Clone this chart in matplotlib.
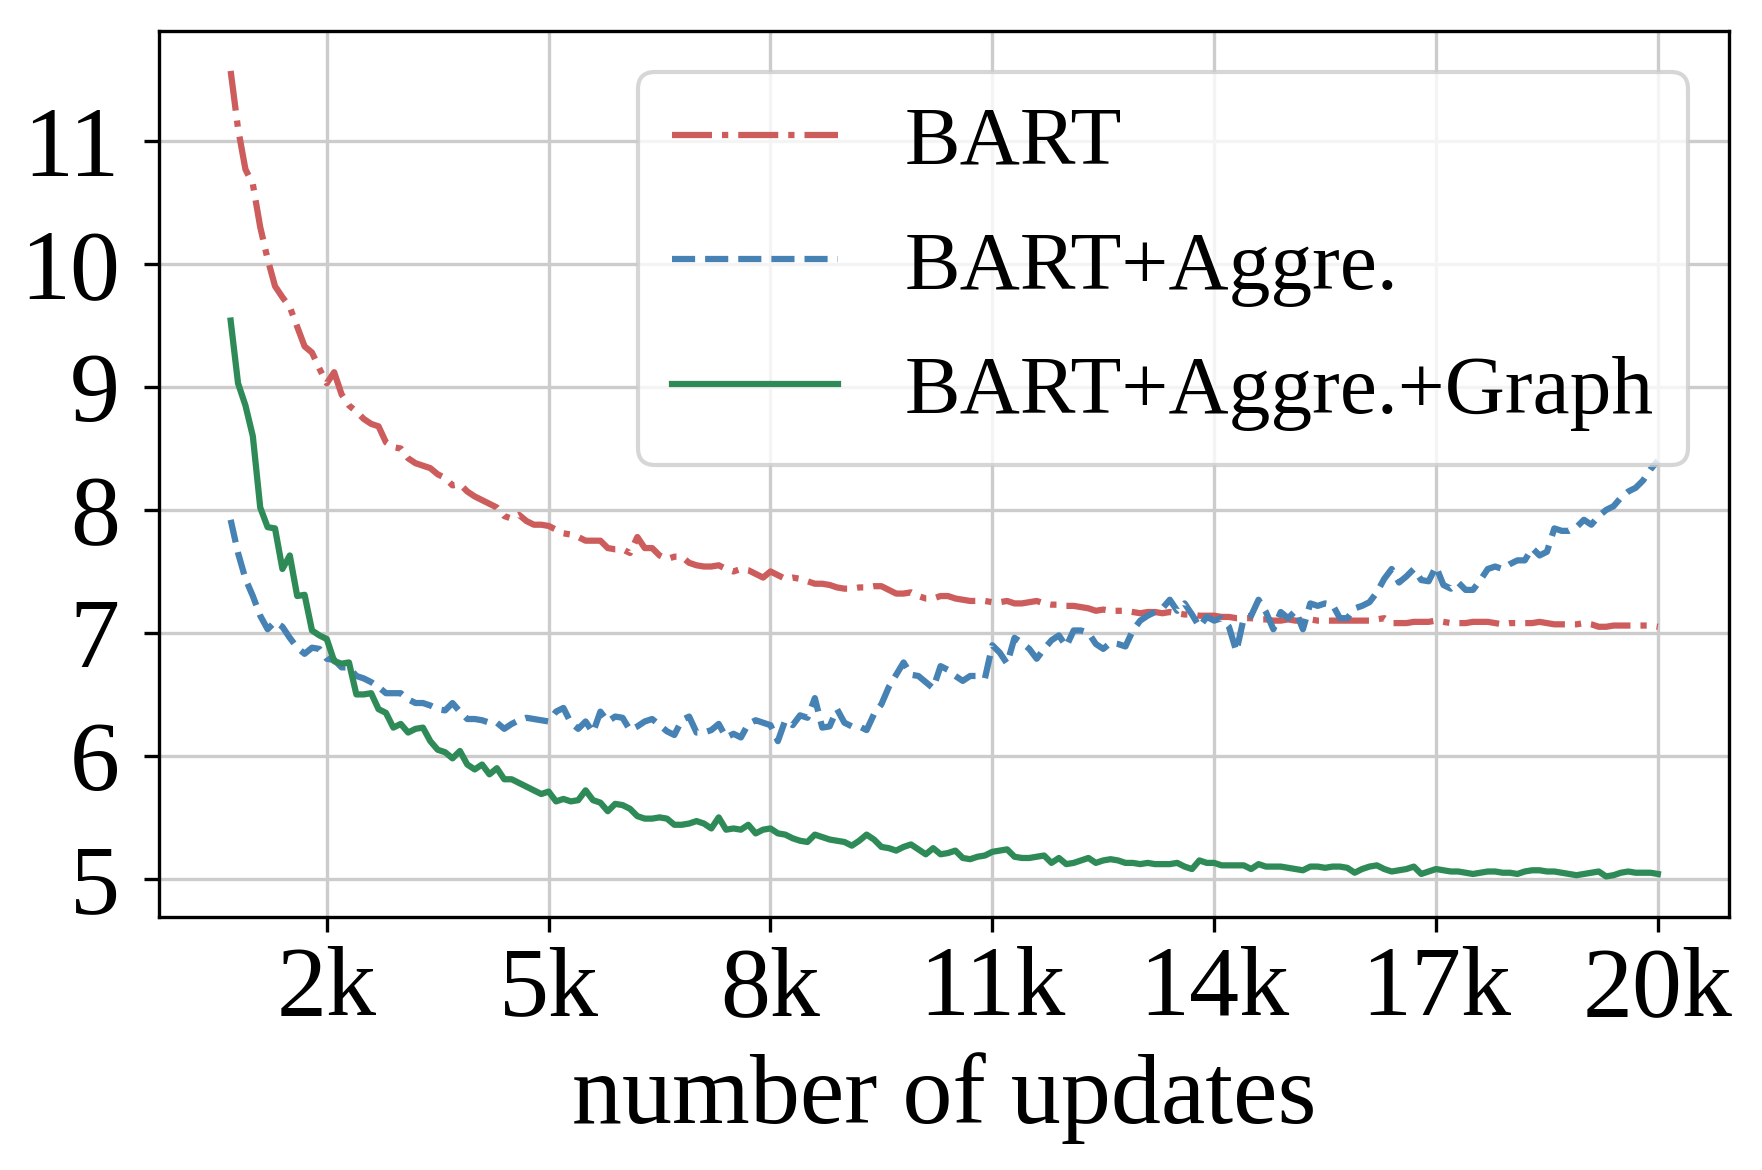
import numpy as np
import matplotlib
matplotlib.use("Agg")
import matplotlib.pyplot as plt

plt.rcParams['font.family'] = ['Liberation Serif', 'DejaVu Serif']

# validation loss, one value every 100 updates starting at 0.7k (x in thousands)
bart = [
    11.57, 11.10, 10.77, 10.65, 10.30, 10.04, 9.82, 9.73, 9.65, 9.49,   # 0.7-1.6k
    9.33, 9.28, 9.15, 9.03, 9.12, 8.94, 8.85, 8.80, 8.74, 8.70,         # 1.7-2.6k
    8.68, 8.55, 8.51, 8.50, 8.42, 8.38, 8.36, 8.34, 8.29, 8.26,         # 2.7-3.6k
    8.20, 8.21, 8.15, 8.11, 8.08, 8.05, 8.02, 7.95, 7.93, 7.96,         # 3.7-4.6k
    7.91, 7.88, 7.88, 7.87, 7.84, 7.81, 7.80, 7.78, 7.75, 7.75,         # 4.7-5.6k
    7.75, 7.69, 7.68, 7.68, 7.65, 7.78, 7.69, 7.69, 7.63, 7.60,         # 5.7-6.6k
    7.62, 7.62, 7.57, 7.55, 7.54, 7.54, 7.55, 7.52, 7.50, 7.52,         # 6.7-7.6k
    7.51, 7.48, 7.45, 7.50, 7.47, 7.44, 7.45, 7.44, 7.42, 7.40,         # 7.7-8.6k
    7.40, 7.39, 7.37, 7.36, 7.36, 7.37, 7.37, 7.38, 7.38, 7.35,         # 8.7-9.6k
    7.32, 7.32, 7.33, 7.30, 7.28, 7.28, 7.30, 7.30, 7.28, 7.27,         # 9.7-10.6k
    7.26, 7.26, 7.26, 7.25, 7.25, 7.26, 7.24, 7.24, 7.25, 7.26,         # 10.7-11.6k
    7.24, 7.23, 7.23, 7.22, 7.22, 7.21, 7.20, 7.18, 7.19, 7.18,         # 11.7-12.6k
    7.18, 7.18, 7.17, 7.16, 7.17, 7.17, 7.16, 7.17, 7.16, 7.15,         # 12.7-13.6k
    7.15, 7.14, 7.14, 7.14, 7.13, 7.13, 7.12, 7.12, 7.12, 7.11,         # 13.7-14.6k
    7.11, 7.10, 7.10, 7.11, 7.10, 7.10, 7.11, 7.10, 7.10, 7.10,         # 14.7-15.6k
    7.10, 7.10, 7.10, 7.10, 7.10, 7.11, 7.12, 7.08, 7.08, 7.08,         # 15.7-16.6k
    7.09, 7.09, 7.09, 7.10, 7.09, 7.08, 7.08, 7.08, 7.09, 7.09,         # 16.7-17.6k
    7.09, 7.08, 7.07, 7.08, 7.08, 7.08, 7.08, 7.09, 7.08, 7.07,         # 17.7-18.6k
    7.07, 7.07, 7.07, 7.08, 7.07, 7.05, 7.05, 7.06, 7.06, 7.06,         # 18.7-19.6k
    7.06, 7.06, 7.06, 7.05,                                             # 19.7-20.0k
]

bart_aggre = [
    7.92, 7.65, 7.44, 7.30, 7.14, 7.03, 7.09, 7.05, 6.96, 6.88,
    6.83, 6.88, 6.87, 6.79, 6.78, 6.72, 6.72, 6.65, 6.63, 6.60,
    6.56, 6.51, 6.51, 6.51, 6.46, 6.43, 6.43, 6.41, 6.38, 6.37,
    6.43, 6.36, 6.30, 6.30, 6.29, 6.27, 6.27, 6.22, 6.26, 6.29,
    6.31, 6.30, 6.29, 6.28, 6.36, 6.39, 6.27, 6.22, 6.28, 6.19,
    6.36, 6.28, 6.32, 6.31, 6.21, 6.24, 6.28, 6.30, 6.25, 6.20,
    6.17, 6.29, 6.32, 6.19, 6.19, 6.21, 6.26, 6.15, 6.18, 6.15,
    6.26, 6.29, 6.27, 6.25, 6.12, 6.29, 6.25, 6.33, 6.31, 6.47,
    6.23, 6.24, 6.38, 6.27, 6.24, 6.24, 6.21, 6.34, 6.42, 6.56,
    6.66, 6.76, 6.66, 6.65, 6.60, 6.55, 6.73, 6.70, 6.65, 6.61,
    6.65, 6.65, 6.63, 6.90, 6.84, 6.75, 6.96, 6.92, 6.87, 6.79,
    6.87, 6.94, 6.98, 6.89, 7.02, 7.02, 7.00, 6.91, 6.87, 6.92,
    6.91, 6.89, 7.02, 7.10, 7.14, 7.17, 7.20, 7.27, 7.18, 7.24,
    7.15, 7.05, 7.13, 7.10, 7.12, 7.05, 6.85, 7.12, 7.14, 7.27,
    7.17, 7.03, 7.17, 7.12, 7.18, 7.03, 7.24, 7.22, 7.24, 7.23,
    7.12, 7.12, 7.20, 7.22, 7.25, 7.33, 7.44, 7.52, 7.41, 7.46,
    7.52, 7.43, 7.42, 7.54, 7.39, 7.36, 7.41, 7.35, 7.35, 7.43,
    7.52, 7.54, 7.52, 7.56, 7.59, 7.59, 7.69, 7.63, 7.66, 7.85,
    7.83, 7.83, 7.86, 7.92, 7.88, 7.95, 8.00, 8.03, 8.10, 8.15,
    8.18, 8.24, 8.33, 8.40,
]

bart_aggre_graph = [
    9.54, 9.03, 8.85, 8.60, 8.02, 7.86, 7.85, 7.52, 7.63, 7.30,
    7.31, 7.02, 6.98, 6.95, 6.77, 6.75, 6.76, 6.50, 6.50, 6.51,
    6.38, 6.35, 6.23, 6.26, 6.19, 6.22, 6.23, 6.12, 6.05, 6.03,
    5.98, 6.04, 5.93, 5.89, 5.93, 5.85, 5.90, 5.81, 5.81, 5.78,
    5.75, 5.72, 5.69, 5.71, 5.63, 5.65, 5.63, 5.64, 5.72, 5.64,
    5.62, 5.55, 5.61, 5.60, 5.57, 5.51, 5.49, 5.49, 5.50, 5.49,
    5.44, 5.44, 5.45, 5.47, 5.45, 5.41, 5.50, 5.40, 5.41, 5.40,
    5.44, 5.37, 5.40, 5.41, 5.37, 5.36, 5.33, 5.31, 5.30, 5.36,
    5.34, 5.32, 5.31, 5.30, 5.27, 5.31, 5.36, 5.32, 5.26, 5.25,
    5.23, 5.26, 5.28, 5.24, 5.20, 5.25, 5.20, 5.21, 5.23, 5.17,
    5.16, 5.18, 5.19, 5.22, 5.23, 5.24, 5.18, 5.17, 5.17, 5.18,
    5.19, 5.13, 5.17, 5.12, 5.13, 5.15, 5.17, 5.13, 5.15, 5.16,
    5.15, 5.13, 5.13, 5.12, 5.13, 5.12, 5.12, 5.12, 5.13, 5.10,
    5.08, 5.15, 5.13, 5.13, 5.11, 5.11, 5.11, 5.11, 5.08, 5.12,
    5.10, 5.10, 5.10, 5.09, 5.08, 5.07, 5.10, 5.10, 5.09, 5.10,
    5.10, 5.09, 5.05, 5.08, 5.10, 5.11, 5.08, 5.06, 5.07, 5.08,
    5.10, 5.04, 5.06, 5.08, 5.07, 5.06, 5.06, 5.05, 5.04, 5.05,
    5.06, 5.06, 5.05, 5.05, 5.04, 5.06, 5.07, 5.07, 5.06, 5.06,
    5.05, 5.04, 5.03, 5.04, 5.05, 5.06, 5.02, 5.03, 5.05, 5.06,
    5.05, 5.05, 5.05, 5.04,
]

xtick_pos = [2, 5, 8, 11, 14, 17, 20]
xtick_labels = ['2k', '5k', '8k', '11k', '14k', '17k', '20k']


def steps(values):
    # checkpoints every 0.1k updates, first one at 0.7k
    return 0.7 + 0.1 * np.arange(len(values))


fig = plt.figure(figsize=(1762 / 300, 1170 / 300), dpi=300)
ax = fig.add_axes([0.0904, 0.2165, 0.8910, 0.7573])

ax.plot(steps(bart), bart, color='indianred', linestyle='-.', lw=1.5, label='BART')
ax.plot(steps(bart_aggre), bart_aggre, color='steelblue', linestyle='--', lw=1.5,
        label='BART+Aggre.')
ax.plot(steps(bart_aggre_graph), bart_aggre_graph, color='seagreen', linestyle='-',
        lw=1.5, label='BART+Aggre.+Graph')

ax.grid(True, color='#cccccc', linewidth=0.8)
ax.set_axisbelow(True)
ax.set_xticks(xtick_pos)
ax.set_xticklabels(xtick_labels)
ax.set_yticks([5, 6, 7, 8, 9, 10, 11])
ax.tick_params(axis='both', labelsize=24)
ax.tick_params(axis='y', pad=6)
ax.set_xlabel('number of updates', fontsize=24)

ax.legend(loc='upper right', fontsize=20, labelspacing=0.58)

fig.savefig('out.png', dpi=300)
